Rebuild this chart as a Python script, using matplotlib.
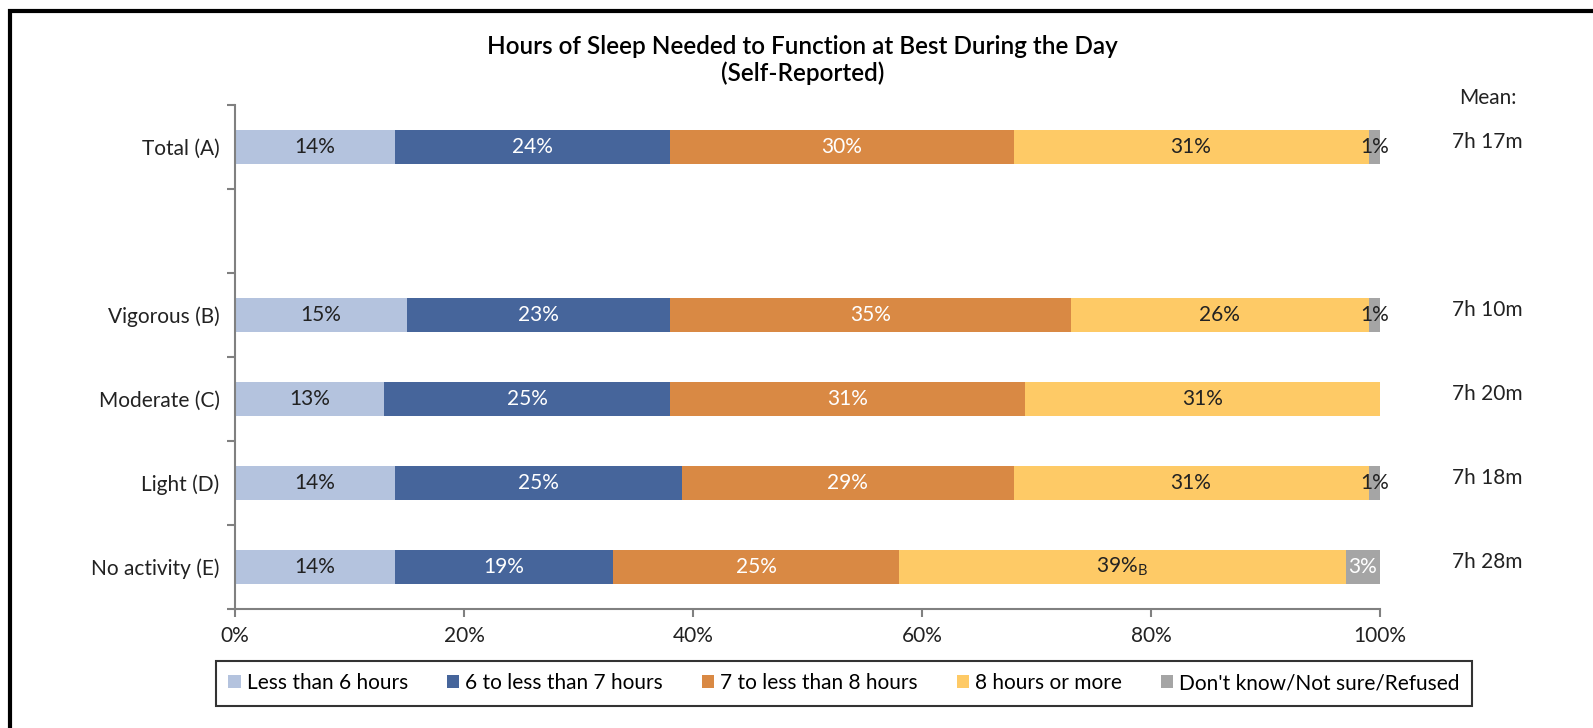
import matplotlib
matplotlib.use("Agg")
import matplotlib.pyplot as plt
import numpy as np
from matplotlib.patches import Rectangle

plt.rcParams['font.family'] = ['Lato', 'DejaVu Sans']

# data
groups = ['Total (A)', 'Vigorous (B)', 'Moderate (C)', 'Light (D)', 'No activity (E)']
ypos = [0, 2, 3, 4, 5]
series = ['Less than 6 hours', '6 to less than 7 hours', '7 to less than 8 hours',
          '8 hours or more', "Don't know/Not sure/Refused"]
less6 = [14, 15, 13, 14, 14]
six_to_7 = [24, 23, 25, 25, 19]
seven_to_8 = [30, 35, 31, 29, 25]
eight_plus = [31, 26, 31, 31, 39]
dont_know = [1, 1, 0.2, 1, 3]
dk_labels = ['1%', '1%', '', '1%', '3%']
means = ['7h 17m', '7h 10m', '7h 20m', '7h 18m', '7h 28m']

colors = ['#B4C3DE', '#46659B', '#D98944', '#FECA66', '#A5A5A5']
txt_colors = ['#222222', 'white', 'white', '#222222', None]
dk_txt = ['#222222', '#222222', '#222222', '#222222', 'white']

fs = 15

fig = plt.figure(figsize=(15.93, 7.28), dpi=100)
ax = fig.add_axes([0.1475, 0.1635, 0.7188, 0.6923])

vals = [less6, six_to_7, seven_to_8, eight_plus, dont_know]
left = np.zeros(len(groups))
for i, v in enumerate(vals):
    v = np.array(v, dtype=float)
    ax.barh(ypos, v, left=left, height=0.4, color=colors[i], label=series[i])
    for j in range(len(groups)):
        cx = left[j] + v[j] / 2
        if i < 4:
            lab = f'{int(v[j])}%'
            if i == 3 and j == 4:
                lab = lab + r'$_{\mathregular{B}}$'
            ax.text(cx, ypos[j], lab, ha='center', va='center', fontsize=fs,
                    color=txt_colors[i])
        elif dk_labels[j]:
            ax.text(cx, ypos[j], dk_labels[j], ha='center', va='center', fontsize=fs,
                    color=dk_txt[j])
    left += v

ax.set_xlim(0, 100)
ax.set_ylim(5.5, -0.5)
ax.set_xticks(np.arange(0, 101, 20))
ax.set_xticklabels([f'{t}%' for t in range(0, 101, 20)], fontsize=fs, color='#222222')
ax.set_yticks(ypos)
ax.set_yticklabels(groups, fontsize=fs, color='#222222')
ax.set_yticks(np.arange(-0.5, 6, 1), minor=True)
ax.tick_params(axis='y', which='major', length=0, pad=11)
ax.tick_params(axis='y', which='minor', length=6, color='#808080', width=1.5)
ax.tick_params(axis='x', length=6, color='#808080', width=1.5, pad=6)
for s in ['top', 'right']:
    ax.spines[s].set_visible(False)
for s in ['left', 'bottom']:
    ax.spines[s].set_color('#808080')
    ax.spines[s].set_linewidth(1.5)

# mean column
fig.text(1488 / 1593, 1 - 98 / 728, 'Mean:', ha='center', va='center', fontsize=fs, color='#222222')
for j in range(len(groups)):
    ax.text(1.094, ypos[j] - 0.06, means[j], transform=ax.get_yaxis_transform(),
            ha='center', va='center', fontsize=fs, color='#222222')

fig.text(0.504, 1 - 46 / 728, 'Hours of Sleep Needed to Function at Best During the Day',
         ha='center', va='center', fontsize=17.5, fontweight='semibold', color='black')
fig.text(0.504, 1 - 73 / 728, '(Self-Reported)', ha='center', va='center', fontsize=17.5,
         fontweight='semibold', color='black')

leg = fig.legend(loc='center', bbox_to_anchor=(844 / 1593, 1 - 683 / 728), ncol=5,
                 fontsize=fs, frameon=True, fancybox=False, handlelength=0.6,
                 handleheight=0.6, handletextpad=0.3, columnspacing=1.85,
                 borderpad=0.6, borderaxespad=0)
leg.get_frame().set_edgecolor('black')
leg.get_frame().set_linewidth(1.5)

# outer frame (open at right and bottom)
fig.add_artist(Rectangle((10 / 1593, -0.1), 1.2, 1 - 11 / 728 + 0.1, transform=fig.transFigure,
                         fill=False, edgecolor='black', linewidth=3))

fig.savefig('out.png', dpi=100)
